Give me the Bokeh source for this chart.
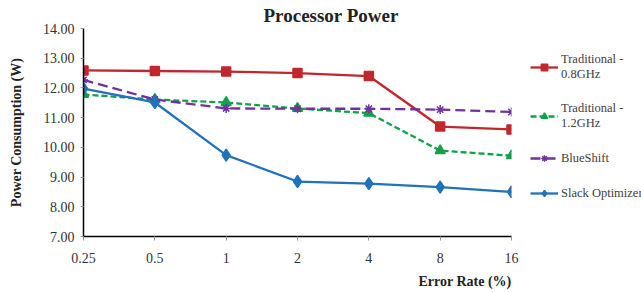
from bokeh.plotting import figure
from bokeh.models import Range1d, Legend, LegendItem, Title, FixedTicker
from bokeh.embed import file_html
from bokeh.resources import INLINE

error_rates = ["0.25", "0.5", "1", "2", "4", "8", "16"]
trad_08 = [12.59, 12.57, 12.55, 12.50, 12.40, 10.70, 10.60]
trad_12 = [11.78, 11.61, 11.51, 11.31, 11.15, 9.89, 9.72]
blueshift = [12.27, 11.61, 11.31, 11.30, 11.30, 11.27, 11.19]
slack = [11.98, 11.51, 9.74, 8.85, 8.78, 8.66, 8.50]
y_ticks = [7, 8, 9, 10, 11, 12, 13, 14]

xs = list(range(len(error_rates)))
FONT = "Liberation Serif"

p = figure(frame_width=428, frame_height=208, output_backend="svg", toolbar_location=None,
           x_range=Range1d(0, len(xs) - 1), y_range=Range1d(7, 14),
           min_border_left=83, min_border_right=0, min_border_top=0, min_border_bottom=0)
p.outline_line_color = None
p.grid.visible = False
p.background_fill_color = "white"

p.xaxis.ticker = FixedTicker(ticks=xs)
p.xaxis.major_label_overrides = {i: s for i, s in zip(xs, error_rates)}
p.yaxis.ticker = FixedTicker(ticks=y_ticks)
p.yaxis.major_label_overrides = {t: f"{t:.2f}" for t in y_ticks}
for ax in (p.xaxis, p.yaxis):
    ax.axis_line_color = "black"
    ax.axis_line_width = 1.5
    ax.major_tick_line_color = "#999999"
    ax.major_tick_in = 0
    ax.minor_tick_line_color = None
    ax.major_label_text_font = FONT
    ax.major_label_text_font_size = "14px"
    ax.major_label_text_color = "#333333"
p.xaxis.major_tick_out = 4
p.yaxis.major_tick_out = 3
p.xaxis.major_label_standoff = 12
p.yaxis.major_label_standoff = 6

p.yaxis.axis_label = "Power Consumption (W)"
p.yaxis.axis_label_text_font = FONT
p.yaxis.axis_label_text_font_style = "bold"
p.yaxis.axis_label_text_font_size = "14px"
p.yaxis.axis_label_text_color = "#222222"
p.yaxis.axis_label_standoff = 16

series = [
    ("Traditional -\n0.8GHz", trad_08, "#C1272D", "solid", "square", 9),
    ("Traditional -\n1.2GHz", trad_12, "#12A14B", "6 3", "triangle", 10),
    ("BlueShift", blueshift, "#7030A0", "10 5", "asterisk", 9),
    ("Slack Optimizer", slack, "#1F72BB", "solid", "diamond", 12),
]
items = []
for name, vals, col, dash, mk, sz in series:
    r1 = p.line(xs, vals, line_color=col, line_width=2.3, line_dash=dash)
    r2 = p.scatter(xs, vals, marker=mk, size=sz, fill_color=col, line_color=col, line_width=1.5)
    items.append(LegendItem(label=name, renderers=[r1, r2]))

legend = Legend(items=items, location=(19, 35), orientation="vertical",
                glyph_width=28, glyph_height=16, label_height=16, spacing=19,
                label_standoff=3, padding=0, margin=0,
                border_line_color=None, background_fill_alpha=0,
                label_text_font=FONT, label_text_font_size="12.5px", label_text_color="#404040")
p.add_layout(legend, "right")

p.add_layout(Title(text="Error Rate (%)", align="right", standoff=12, text_font=FONT,
                   text_font_style="bold", text_font_size="14px", text_color="#222222"), "below")
p.title = Title(text="Processor Power", align="left", offset=180, standoff=5, text_font=FONT,
                text_font_style="bold", text_font_size="19px", text_color="#222222")

open("out.html", "w").write(file_html(p, INLINE))
